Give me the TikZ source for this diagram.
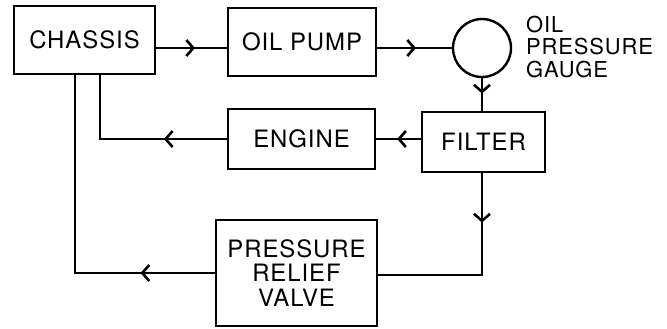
\documentclass[tikz,border=0pt]{standalone}
\usepackage{fontspec}
\setmainfont[LetterSpace=4]{TeX Gyre Heros}
\usetikzlibrary{arrows.meta,decorations.markings,positioning}

\tikzset{
  unit/.style={draw, line width=2.4bp, inner sep=0pt, align=center,
               font=\fontsize{24}{25}\selectfont},
  flow/.style={line width=2.4bp, postaction=decorate,
               decoration={markings, mark=at position #1 with
               {\arrow{Straight Barb[length=7bp,width=16bp,line width=2.6bp]}}}},
}

\begin{document}
\begin{tikzpicture}[x=1bp, y=-1bp]
\useasboundingbox (0,0) rectangle (667,328);
%
\node[unit, minimum width=141bp, minimum height=68bp] (chassis) at (84.5,40) {CHASSIS};
\node[unit, minimum width=148bp, minimum height=68bp] (pump) at (302,42) {OIL PUMP};
\node[draw, circle, line width=2.4bp, minimum size=58bp, inner sep=0pt] (gauge) at (482,48) {};
\node[align=left, anchor=west, inner sep=0pt, font=\fontsize{22}{23}\selectfont] (gaugelbl) at (526,47) {OIL\\PRESSURE\\GAUGE};
\node[unit, minimum width=123bp, minimum height=60bp] (filter) at (483.5,142) {FILTER};
\node[unit, minimum width=147bp, minimum height=60bp] (engine) at (301.5,139) {ENGINE};
\node[unit, minimum width=161bp, minimum height=106bp] (valve) at (296.5,273) {PRESSURE\\RELIEF\\VALVE};
%
\coordinate (c1) at (100,0);
\coordinate (c2) at (75,0);
\coordinate (r1) at (0,275);
%
\draw[flow=0.55] (chassis.east |- gauge) -- (pump.west |- gauge);
\draw[flow=0.52] (pump.east |- gauge) -- (gauge.west);
\draw[flow=0.47] (gauge.south) -- (gauge.south |- filter.north);
\draw[flow=0.53] (filter.west |- engine) -- (engine.east);
\draw[flow=0.33] (engine.west) -- (engine.west -| c1) -- (chassis.south -| c1);
\draw[flow=0.24] (filter.south -| gauge) -- (gauge |- r1) -- (valve.east |- r1);
\draw[flow=0.22] (valve.west) -- (valve.west -| c2) -- (chassis.south -| c2);
%
\end{tikzpicture}
\end{document}
